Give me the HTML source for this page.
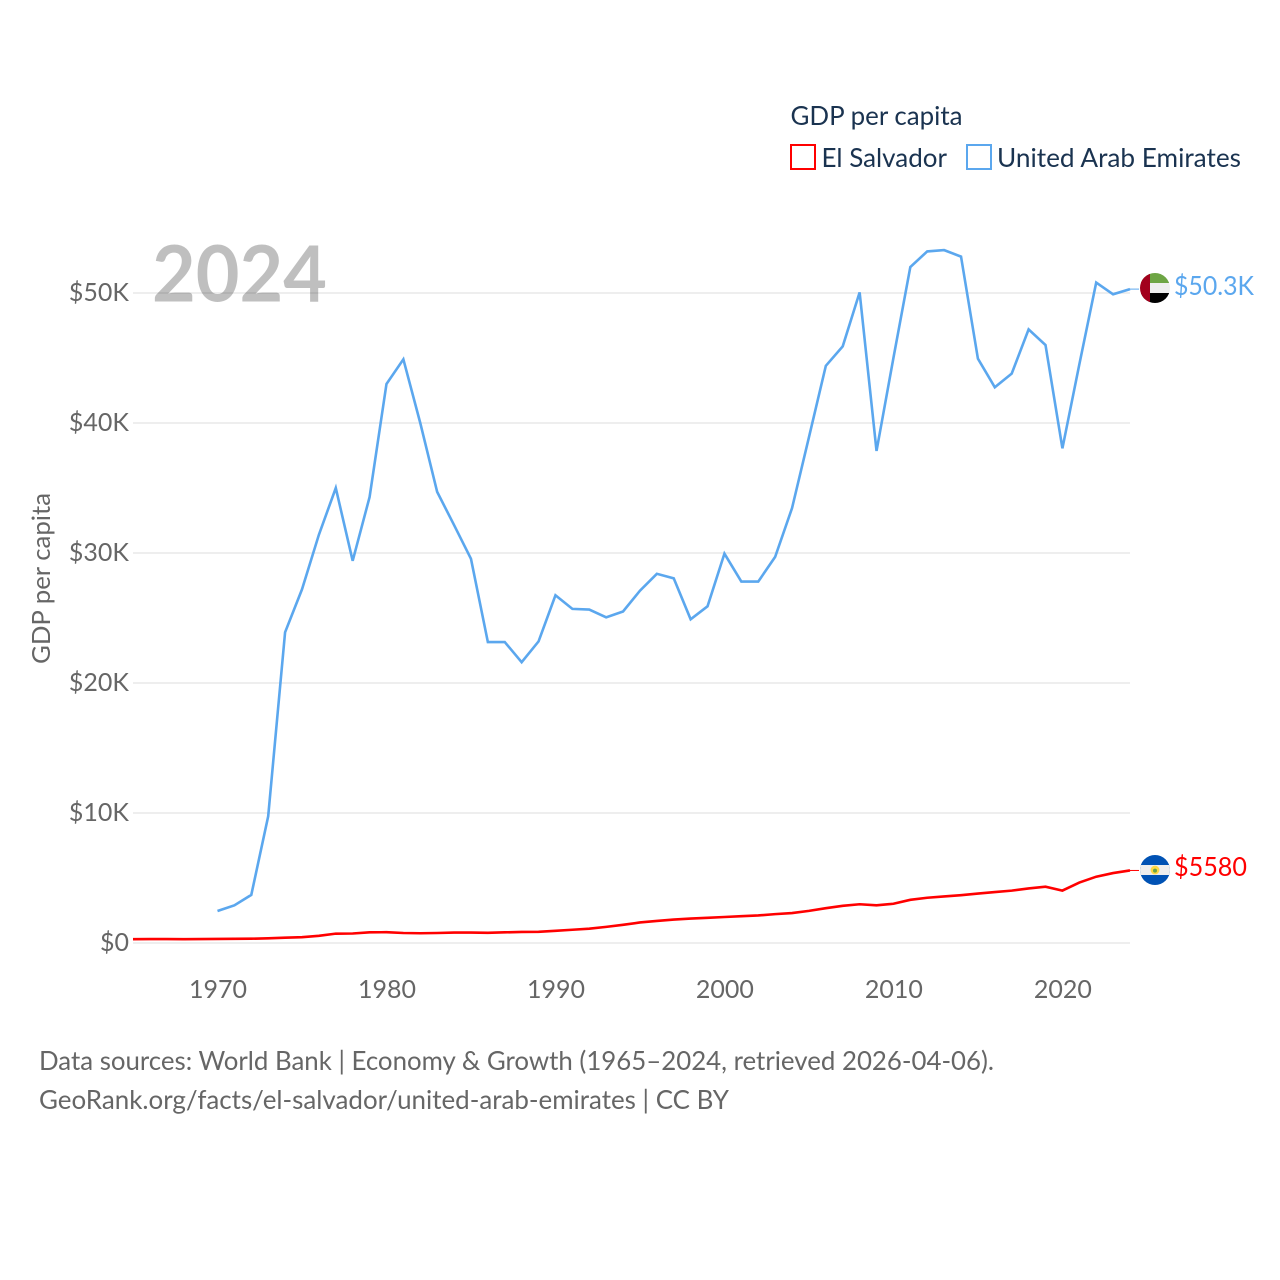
<!DOCTYPE html>
<html lang="en">
<head>
<meta charset="utf-8">
<title>GDP per capita: El Salvador and United Arab Emirates</title>
<style>
html,body{margin:0;padding:0;background:#fff;}
svg{display:block;font-family:"Lato","Carlito","Liberation Sans",sans-serif;}
</style>
</head>
<body>
<svg id="chart" width="1280" height="1280" viewBox="0 0 1280 1280" xmlns="http://www.w3.org/2000/svg">
  <defs>
    <clipPath id="flag-clip-uae"><circle cx="1155" cy="288" r="15"/></clipPath>
    <clipPath id="flag-clip-sv"><circle cx="1155" cy="870" r="15"/></clipPath>
  </defs>
  <rect width="1280" height="1280" fill="#fff"/>
  <g id="grid"></g>
  <text x="152" y="301.5" font-size="78" font-weight="700" fill="#000" fill-opacity="0.25" textLength="175" lengthAdjust="spacingAndGlyphs">2024</text>
  <g id="y-labels"></g>
  <g id="x-labels"></g>
  <text transform="translate(50,578.5) rotate(-90)" text-anchor="middle" font-size="25" fill="#666" textLength="171" lengthAdjust="spacingAndGlyphs">GDP per capita</text>
  <g id="series"></g>

  <g>
    <text x="790.5" y="125" font-size="26" fill="#1a3350" textLength="172" lengthAdjust="spacingAndGlyphs">GDP per capita</text>
    <rect x="791" y="145" width="24" height="24" fill="#fff" stroke="#ff0000" stroke-width="2"/>
    <text x="821.5" y="167" font-size="26" fill="#1a3350" textLength="125.5" lengthAdjust="spacingAndGlyphs">El Salvador</text>
    <rect x="967" y="145" width="24" height="24" fill="#fff" stroke="#5ba7ee" stroke-width="2"/>
    <text x="997" y="167" font-size="26" fill="#1a3350" textLength="244" lengthAdjust="spacingAndGlyphs">United Arab Emirates</text>
  </g>

  <g clip-path="url(#flag-clip-uae)">
    <rect x="1140" y="273" width="30" height="10" fill="#6da544"/>
    <rect x="1140" y="283" width="30" height="10" fill="#eeeeee"/>
    <rect x="1140" y="293" width="30" height="10" fill="#000000"/>
    <rect x="1140" y="273" width="10" height="30" fill="#a2001d"/>
  </g>
  <g clip-path="url(#flag-clip-sv)">
    <rect x="1140" y="855" width="30" height="30" fill="#0052b4"/>
    <rect x="1140" y="865" width="30" height="10" fill="#eeeeee"/>
    <circle cx="1155" cy="870" r="4.4" fill="#ffda44"/>
    <circle cx="1155" cy="870.6" r="2" fill="#6da544"/>
  </g>

  <text x="1174" y="295" font-size="26" fill="#5ba7ee" textLength="80" lengthAdjust="spacingAndGlyphs">$50.3K</text>
  <text x="1174" y="876" font-size="26" fill="#ff0000" textLength="73" lengthAdjust="spacingAndGlyphs">$5580</text>

  <text x="39" y="1070" font-size="26" fill="#666" textLength="955" lengthAdjust="spacingAndGlyphs">Data sources: World Bank | Economy &amp; Growth (1965–2024, retrieved 2026-04-06).</text>
  <text x="39" y="1109" font-size="26" fill="#666" textLength="690" lengthAdjust="spacingAndGlyphs">GeoRank.org/facts/el-salvador/united-arab-emirates | CC BY</text>
</svg>
<script>
var startYear = 1965;
var endYear = 2024;
var xTickYears = [1970, 1980, 1990, 2000, 2010, 2020];
var yTickValues = [0, 10, 20, 30, 40, 50];
var yTickLabels = ["$0", "$10K", "$20K", "$30K", "$40K", "$50K"];

/* GDP per capita in thousands of USD */
var uaeFirstYear = 1970;
var uaeValues = [2.46, 2.9, 3.7, 9.75, 23.9, 27.2, 31.4, 35.0, 29.4, 34.3,
  43.0, 44.9, 40.0, 34.7, 32.15, 29.55, 23.15, 23.15, 21.6, 23.2,
  26.75, 25.7, 25.65, 25.05, 25.5, 27.1, 28.4, 28.05, 24.9, 25.9,
  29.95, 27.8, 27.8, 29.7, 33.45, 38.9, 44.4, 45.9, 50.05, 37.85,
  45.0, 52.0, 53.2, 53.3, 52.8, 44.95, 42.75, 43.8, 47.2, 46.0,
  38.05, 44.5, 50.8, 49.9, 50.3];

var salvadorFirstYear = 1965;
var salvadorValues = [0.29, 0.3, 0.3, 0.29, 0.3, 0.31, 0.32, 0.33, 0.36, 0.41,
  0.45, 0.55, 0.72, 0.73, 0.82, 0.83, 0.77, 0.75, 0.77, 0.8,
  0.8, 0.78, 0.82, 0.85, 0.86, 0.94, 1.02, 1.1, 1.24, 1.4,
  1.58, 1.7, 1.8, 1.88, 1.94, 2.0, 2.06, 2.12, 2.22, 2.3,
  2.47, 2.68, 2.86, 2.98, 2.9, 3.02, 3.32, 3.48, 3.58, 3.68,
  3.8, 3.92, 4.03, 4.2, 4.33, 4.03, 4.65, 5.1, 5.38, 5.58];

var NS = "http://www.w3.org/2000/svg";
function xScale(year) { return 133 + (year - startYear) * (1130 - 133) / (endYear - startYear); }
function yScale(value) { return 943 - value * 13; }

function make(tag, attrs, parent) {
  var el = document.createElementNS(NS, tag);
  for (var k in attrs) { el.setAttribute(k, attrs[k]); }
  parent.appendChild(el);
  return el;
}

var gridGroup = document.getElementById("grid");
var yLabelGroup = document.getElementById("y-labels");
var xLabelGroup = document.getElementById("x-labels");
var seriesGroup = document.getElementById("series");

yTickValues.forEach(function (v, i) {
  var line = make("line", {x1: xScale(startYear), x2: xScale(endYear), y1: yScale(v), y2: yScale(v), stroke: "#eeeeee", "stroke-width": 2}, gridGroup);
  
  
  var label = make("text", {x: 129, y: yScale(v) + 8, "text-anchor": "end", "font-size": 25, fill: "#666"}, yLabelGroup);
  label.textContent = yTickLabels[i];
  
  
});

xTickYears.forEach(function (yr) {
  var label = make("text", {x: xScale(yr) + 0.5, y: 998, "text-anchor": "middle", "font-size": 25, fill: "#666"}, xLabelGroup);
  label.textContent = String(yr);
  
  
});

function linePoints(firstYear, values) {
  return values.map(function (v, i) {
    return xScale(firstYear + i).toFixed(2) + "," + yScale(v).toFixed(2);
  }).join(" ");
}

var uaeLine = make("polyline", {points: linePoints(uaeFirstYear, uaeValues), fill: "none", stroke: "#5ba7ee", "stroke-width": 2.6, "stroke-linejoin": "miter"}, seriesGroup);



var salvadorLine = make("polyline", {points: linePoints(salvadorFirstYear, salvadorValues), fill: "none", stroke: "#ff0000", "stroke-width": 2.6, "stroke-linejoin": "miter"}, seriesGroup);



var uaeLast = uaeValues[uaeValues.length - 1];
var uaeConnector = make("line", {x1: xScale(endYear), x2: 1139, y1: yScale(uaeLast), y2: yScale(uaeLast), stroke: "#5ba7ee", "stroke-width": 1}, seriesGroup);



var salvadorLast = salvadorValues[salvadorValues.length - 1];
var salvadorConnector = make("line", {x1: xScale(endYear), x2: 1139, y1: yScale(salvadorLast), y2: yScale(salvadorLast), stroke: "#ff0000", "stroke-width": 1}, seriesGroup);


</script>
</body>
</html>
